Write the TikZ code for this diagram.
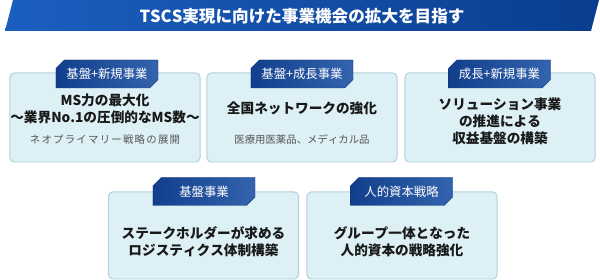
\documentclass[tikz,border=0pt]{standalone}
\usepackage{fontspec}
\setmainfont{Noto Sans CJK JP}[Kerning=Off]
\usepackage{xcolor}
\usetikzlibrary{positioning, shapes.misc}
\definecolor{bannerleft}{HTML}{1B5FC0}
\definecolor{bannerright}{HTML}{0A3D8E}
\definecolor{tagleft}{HTML}{123F8C}
\definecolor{tagright}{HTML}{3464AE}
\definecolor{cardfill}{HTML}{DCF0F6}
\definecolor{cardline}{HTML}{B2D0DE}
\definecolor{subgray}{HTML}{555555}

\begin{document}
\begin{tikzpicture}[
    x=0.025cm, y=-0.025cm,
    card/.style={draw=cardline, fill=cardfill, rounded corners=3pt, line width=0.7pt,
      minimum width=4.75cm, minimum height=#1},
    card/.default=2.225cm,
    tagbox/.style={chamfered rectangle, chamfered rectangle corners={north west, south east},
      chamfered rectangle xsep=3pt, chamfered rectangle ysep=3pt,
      left color=tagleft, right color=tagright, draw=tagleft!80!black, line width=0.3pt,
      minimum width=2.55cm, minimum height=0.7cm, inner sep=0pt,
      text=white, font=\fontsize{8.8}{10}\selectfont},
    mainline/.style={font=\fontsize{9.7}{12}\selectfont\bfseries, align=center, text=black!90},
    subline/.style={font=\fontsize{7.4}{9}\selectfont#1, text=subgray},
    subline/.default=,
]
\useasboundingbox (0,0) rectangle (600,280);

% Banner
\shade[left color=bannerleft, right color=bannerright]
  (13,0) -- (599,0) -- (591,31) -- (5,31) -- cycle;
\node[text=white, font=\fontsize{11.8}{14}\selectfont\bfseries] (title) at (302,16)
  {TSCS実現に向けた事業機会の拡大を目指す};

% Upper cards
\node[card] (c1) at (105,117.5) {};
\node[card] (c2) at (302,117.5) {};
\node[card] (c3) at (500,117.5) {};

% Lower cards
\node[card=2.175cm] (c4) at (203.5,235.5) {};
\node[card=2.175cm] (c5) at (402,235.5) {};

% Tags
\node[tagbox] (t1) at (107,74) {基盤+新規事業};
\node[tagbox] (t2) at (302,74) {基盤+成長事業};
\node[tagbox] (t3) at (499.5,74) {成長+新規事業};
\node[tagbox] (t4) at (204,191.5) {基盤事業};
\node[tagbox] (t5) at (401.5,191.5) {人的資本戦略};

% Card texts
\node[mainline] (m1) at (105,109) {MS力の最大化\\〜業界No.1の圧倒的なMS数〜};
\node[subline=\addfontfeature{LetterSpace=12}] (s1) at (105,140) {ネオプライマリー戦略の展開};
\node[mainline] (m2) at (302,108) {全国ネットワークの強化};
\node[subline] (s2) at (302,140) {医療用医薬品、メディカル品};
\node[mainline] (m3) at (500,121.5) {ソリューション事業\\の推進による\\収益基盤の構築};
\node[mainline] (m4) at (203.5,241.5) {ステークホルダーが求める\\ロジスティクス体制構築};
\node[mainline] (m5) at (402,241.5) {グループ一体となった\\人的資本の戦略強化};

\end{tikzpicture}
\end{document}
